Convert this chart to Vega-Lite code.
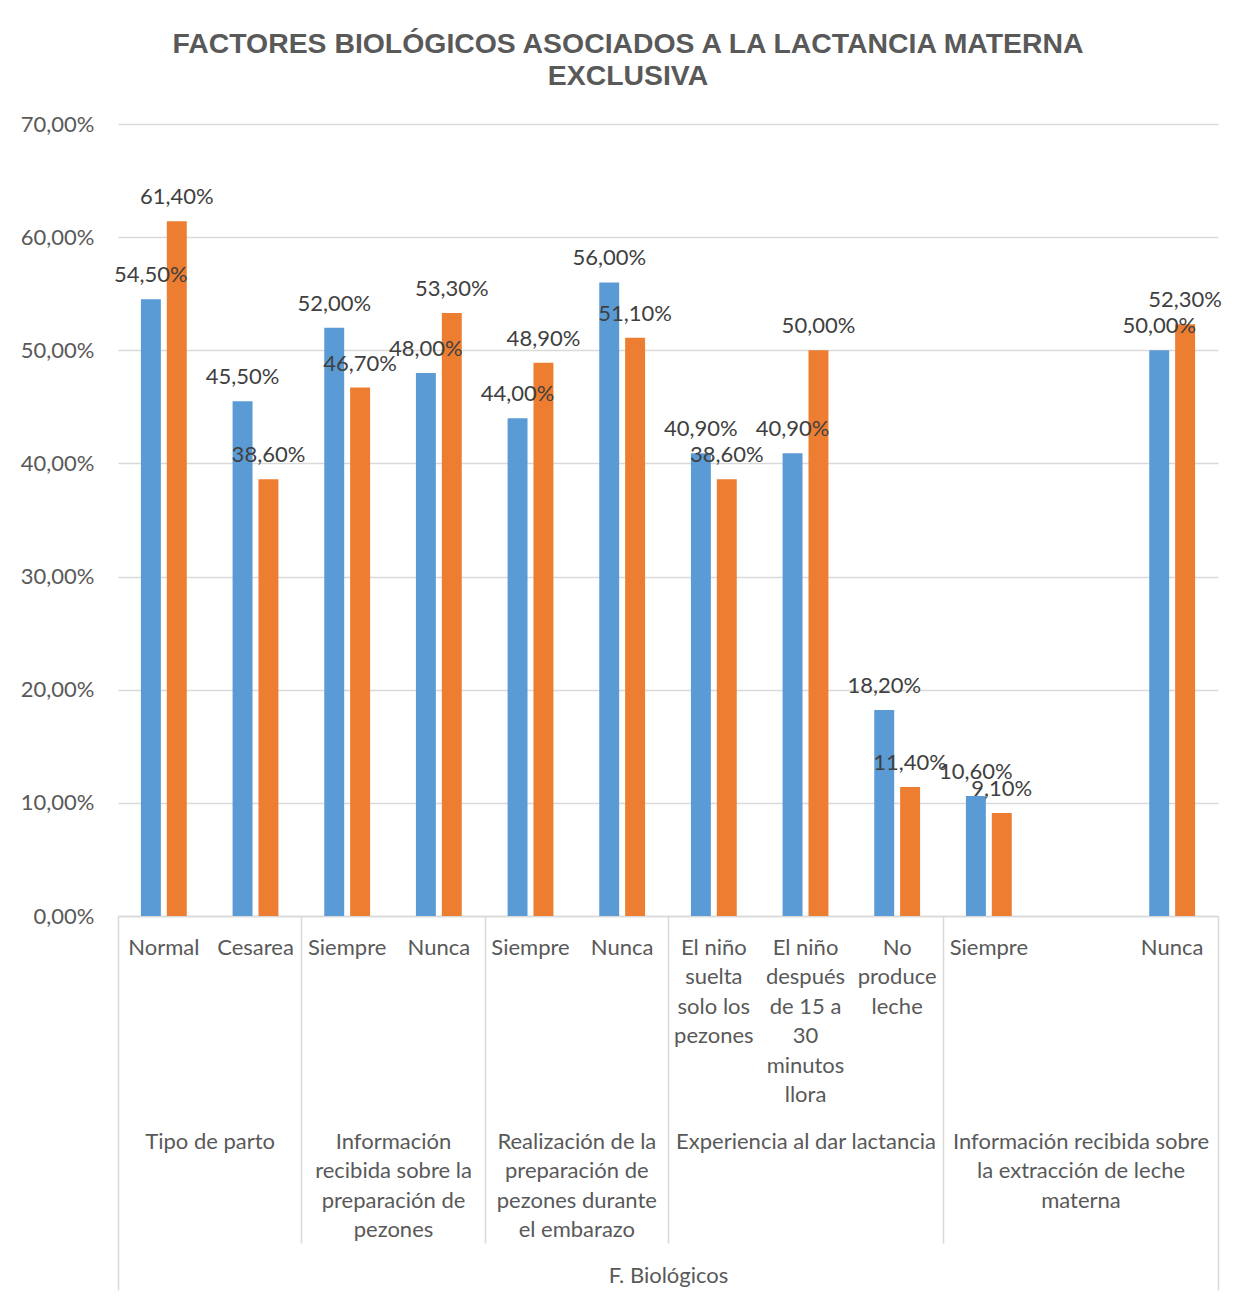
{
  "$schema": "https://vega.github.io/schema/vega-lite/v6.json",
  "autosize": "none",
  "width": 1100,
  "height": 792,
  "padding": {"left": 118, "top": 124, "right": 34, "bottom": 381},
  "background": "white",
  "config": {
    "locale": {"number": {"decimal": ",", "thousands": ".", "grouping": [3], "currency": ["", " €"]}},
    "view": {"stroke": null},
    "font": "Lato",
    "axis": {"labelFont": "Lato", "labelFontSize": 22, "labelColor": "#595959", "titleFont": "Lato"}
  },
  "title": {
    "text": ["FACTORES BIOLÓGICOS ASOCIADOS A LA LACTANCIA MATERNA", "EXCLUSIVA"],
    "font": "Liberation Sans",
    "fontSize": 28.4,
    "fontWeight": "bold",
    "color": "#595959",
    "anchor": "middle",
    "frame": "group",
    "dx": -40,
    "lineHeight": 32,
    "offset": 22
  },
  "datasets": {
    "barras": [
      {"categoria": "Normal", "serie": "Serie 1", "valor": 0.545},
      {"categoria": "Normal", "serie": "Serie 2", "valor": 0.614},
      {"categoria": "Cesarea", "serie": "Serie 1", "valor": 0.455},
      {"categoria": "Cesarea", "serie": "Serie 2", "valor": 0.386},
      {"categoria": "Siempre", "serie": "Serie 1", "valor": 0.52},
      {"categoria": "Siempre", "serie": "Serie 2", "valor": 0.467},
      {"categoria": "Nunca", "serie": "Serie 1", "valor": 0.48},
      {"categoria": "Nunca", "serie": "Serie 2", "valor": 0.533},
      {"categoria": "Siempre ", "serie": "Serie 1", "valor": 0.44},
      {"categoria": "Siempre ", "serie": "Serie 2", "valor": 0.489},
      {"categoria": "Nunca ", "serie": "Serie 1", "valor": 0.56},
      {"categoria": "Nunca ", "serie": "Serie 2", "valor": 0.511},
      {"categoria": "El niño|suelta|solo los|pezones", "serie": "Serie 1", "valor": 0.409},
      {"categoria": "El niño|suelta|solo los|pezones", "serie": "Serie 2", "valor": 0.386},
      {"categoria": "El niño|después|de 15 a|30|minutos|llora", "serie": "Serie 1", "valor": 0.409},
      {"categoria": "El niño|después|de 15 a|30|minutos|llora", "serie": "Serie 2", "valor": 0.5},
      {"categoria": "No|produce|leche", "serie": "Serie 1", "valor": 0.182},
      {"categoria": "No|produce|leche", "serie": "Serie 2", "valor": 0.114},
      {"categoria": "Siempre  ", "serie": "Serie 1", "valor": 0.106},
      {"categoria": "Siempre  ", "serie": "Serie 2", "valor": 0.091},
      {"categoria": "Nunca  ", "serie": "Serie 1", "valor": 0.5},
      {"categoria": "Nunca  ", "serie": "Serie 2", "valor": 0.523}
    ],
    "separadores": [
      {"posicion": 2}, {"posicion": 4}, {"posicion": 6}, {"posicion": 9}
    ],
    "bordes": [
      {"posicion": 0}, {"posicion": 12}
    ],
    "grupos": [
      {"grupo": "Tipo de parto", "centro": 1},
      {"grupo": "Información recibida sobre la preparación de pezones", "centro": 3},
      {"grupo": "Realización de la preparación de pezones durante el embarazo", "centro": 5},
      {"grupo": "Experiencia al dar lactancia", "centro": 7.5},
      {"grupo": "Información recibida sobre la extracción de leche materna", "centro": 10.5}
    ],
    "nivel": [
      {"nivel": "F. Biológicos", "centro": 6}
    ]
  },
  "layer": [
    {
      "data": {"name": "barras"},
      "mark": {"type": "bar"},
      "encoding": {
        "x": {
          "field": "categoria", "type": "nominal", "sort": null,
          "scale": {
            "domain": ["Normal", "Cesarea", "Siempre", "Nunca", "Siempre ", "Nunca ", "El niño|suelta|solo los|pezones", "El niño|después|de 15 a|30|minutos|llora", "No|produce|leche", "Siempre  ", "   ", "Nunca  "],
            "paddingInner": 0.5, "paddingOuter": 0.25
          },
          "axis": {
            "orient": "bottom", "title": null, "labelAngle": 0, "ticks": false, "tickSize": 0,
            "labelPadding": 21, "labelLineHeight": 29.5, "labelOverlap": false, "labelLimit": 0,
            "labelExpr": "split(trim(datum.label), '|')",
            "domainColor": "#D9D9D9", "domainWidth": 1.5, "grid": false
          }
        },
        "xOffset": {"field": "serie", "type": "nominal", "scale": {"paddingInner": 0.23, "paddingOuter": 0}},
        "y": {
          "field": "valor", "type": "quantitative",
          "scale": {"domain": [0, 0.7], "nice": false},
          "axis": {
            "title": null, "format": ".2%", "values": [0, 0.1, 0.2, 0.3, 0.4, 0.5, 0.6, 0.7],
            "ticks": false, "tickSize": 0, "domain": false, "labelPadding": 24,
            "gridColor": "#D9D9D9", "gridWidth": 1.5
          }
        },
        "color": {
          "field": "serie", "type": "nominal",
          "scale": {"domain": ["Serie 1", "Serie 2"], "range": ["#5B9BD5", "#ED7D31"]},
          "legend": null
        }
      }
    },
    {
      "data": {"name": "barras"},
      "mark": {"type": "text", "baseline": "alphabetic", "dy": -17, "fontSize": 22, "font": "Lato", "color": "#404040"},
      "encoding": {
        "x": {
          "field": "categoria", "type": "nominal", "sort": null,
          "scale": {
            "domain": ["Normal", "Cesarea", "Siempre", "Nunca", "Siempre ", "Nunca ", "El niño|suelta|solo los|pezones", "El niño|después|de 15 a|30|minutos|llora", "No|produce|leche", "Siempre  ", "   ", "Nunca  "],
            "paddingInner": 0.5, "paddingOuter": 0.25
          },
          "axis": null
        },
        "xOffset": {"field": "serie", "type": "nominal", "scale": {"paddingInner": 0.23, "paddingOuter": 0}},
        "y": {"field": "valor", "type": "quantitative"},
        "text": {"field": "valor", "type": "quantitative", "format": ".2%"}
      }
    },
    {
      "data": {"name": "separadores"},
      "mark": {"type": "rule", "opacity": 0},
      "encoding": {
        "x": {
          "field": "posicion", "type": "quantitative",
          "scale": {"domain": [0, 12], "nice": false, "zero": false},
          "axis": {
            "orient": "bottom", "title": null, "values": [2, 4, 6, 9], "labels": false, "domain": false, "grid": false,
            "ticks": true, "tickSize": 327, "tickColor": "#D9D9D9", "tickWidth": 1.5
          }
        }
      }
    },
    {
      "data": {"name": "bordes"},
      "mark": {"type": "rule", "opacity": 0},
      "encoding": {
        "x": {
          "field": "posicion", "type": "quantitative",
          "scale": {"domain": [0, 12], "nice": false, "zero": false},
          "axis": {
            "orient": "bottom", "title": null, "values": [0, 12], "labels": false, "domain": false, "grid": false,
            "ticks": true, "tickSize": 374, "tickColor": "#D9D9D9", "tickWidth": 1.5
          }
        }
      }
    },
    {
      "data": {"name": "grupos"},
      "mark": {"type": "rule", "opacity": 0},
      "encoding": {
        "x": {
          "field": "centro", "type": "quantitative",
          "scale": {"domain": [0, 12], "nice": false, "zero": false},
          "axis": {
            "orient": "bottom", "title": null, "values": [1, 3, 5, 7.5, 10.5], "domain": false, "grid": false,
            "ticks": false, "tickSize": 0, "labelPadding": 215, "labelLineHeight": 29.5,
            "labelFlush": false, "labelOverlap": false, "labelBound": false, "labelLimit": 0,
            "labelExpr": "datum.value == 1 ? ['Tipo de parto'] : datum.value == 3 ? ['Información', 'recibida sobre la', 'preparación de', 'pezones'] : datum.value == 5 ? ['Realización de la', 'preparación de', 'pezones durante', 'el embarazo'] : datum.value == 7.5 ? ['Experiencia al dar lactancia'] : ['Información recibida sobre', 'la extracción de leche', 'materna']"
          }
        }
      }
    },
    {
      "data": {"name": "nivel"},
      "mark": {"type": "rule", "opacity": 0},
      "encoding": {
        "x": {
          "field": "centro", "type": "quantitative",
          "scale": {"domain": [0, 12], "nice": false, "zero": false},
          "axis": {
            "orient": "bottom", "title": null, "values": [6], "domain": false, "grid": false,
            "ticks": false, "tickSize": 0, "labelPadding": 349,
            "labelFlush": false, "labelOverlap": false, "labelBound": false,
            "labelExpr": "'F. Biológicos'"
          }
        }
      }
    }
  ],
  "resolve": {"scale": {"x": "independent"}, "axis": {"x": "independent"}}
}
